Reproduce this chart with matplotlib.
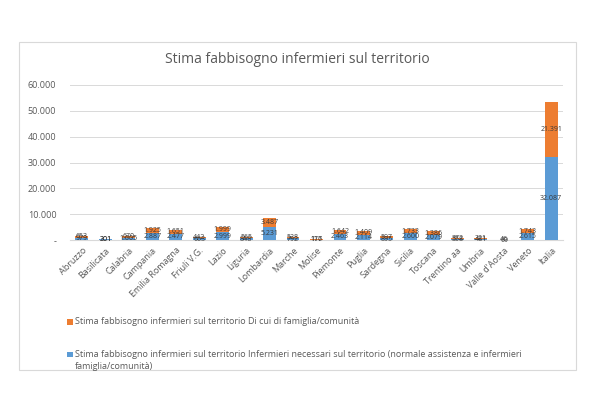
from matplotlib import pyplot as plt
from matplotlib.patches import Rectangle
import numpy as np

# Data
regioni = ["Abruzzo", "Basilicata", "Calabria", "Campania", "Emilia Romagna",
           "Friuli V.G.", "Lazio", "Liguria", "Lombardia", "Marche", "Molise",
           "Piemonte", "Puglia", "Sardegna", "Sicilia", "Toscana", "Trentino aa",
           "Umbria", "Valle d'Aosta", "Veneto", "Italia"]
necessari = [979, 301, 1005, 2887, 2477, 663, 2999, 848, 5231, 792, 176,
             2463, 2114, 895, 2600, 2079, 558, 481, 69, 2615, 32087]
famiglia = [653, 201, 670, 1925, 1651, 442, 1999, 565, 3487, 528, 117,
            1642, 1409, 597, 1733, 1386, 372, 321, 46, 1743, 21391]
yticks = [0, 10000, 20000, 30000, 40000, 50000, 60000]

BLUE = "#5B9BD5"
ORANGE = "#ED7D31"
TXT = "#595959"

plt.rcParams['font.family'] = ['Open Sans', 'DejaVu Sans']


def fmt(v):
    return f"{v:,}".replace(",", ".")


fig = plt.figure(figsize=(6, 3.97), dpi=100)
fig.patch.set_facecolor("white")

# chart frame (behind the axes)
fig.patches.append(Rectangle((0.032, 0.068), 0.928, 0.826, transform=fig.transFigure,
                             facecolor="none", edgecolor="#D9D9D9", linewidth=0.8,
                             zorder=-1))

ax = fig.add_axes([0.117, 0.395, 0.821, 0.391])
ax.set_facecolor("none")
x = np.arange(len(regioni))
ax.bar(x, necessari, width=0.55, color=BLUE, zorder=3)
ax.bar(x, famiglia, width=0.55, bottom=necessari, color=ORANGE, zorder=3)

# data labels centered in each segment
for i in range(len(regioni)):
    ax.text(x[i], necessari[i] / 2, fmt(necessari[i]), ha="center", va="center",
            fontsize=5, color="#3a3a3a", zorder=4)
    ax.text(x[i], necessari[i] + famiglia[i] / 2, fmt(famiglia[i]), ha="center",
            va="center", fontsize=5, color="#3a3a3a", zorder=4)

ax.set_xlim(-0.5, len(regioni) - 0.5)
ax.set_ylim(0, 60000)
ax.set_yticks(yticks)
ax.set_yticklabels(["-" if v == 0 else fmt(v) for v in yticks], fontsize=6.5, color=TXT)
ax.set_xticks(x)
ax.set_xticklabels(regioni, rotation=45, ha="right", rotation_mode="anchor",
                   fontsize=6.5, color=TXT)
ax.tick_params(length=0)
ax.tick_params(axis="y", pad=10)
ax.tick_params(axis="x", pad=4)
ax.grid(axis="y", color="#D9D9D9", linewidth=0.7, zorder=0)
for s in ax.spines.values():
    s.set_visible(False)
ax.spines["bottom"].set_visible(True)
ax.spines["bottom"].set_color("#D9D9D9")

fig.text(0.495, 0.849, "Stima fabbisogno infermieri sul territorio", ha="center",
         va="center", fontsize=10, color=TXT)

# legend
fig.patches.append(Rectangle((0.112, 0.182), 0.009, 0.014, transform=fig.transFigure,
                             facecolor=ORANGE, edgecolor="none"))
fig.text(0.125, 0.189, "Stima fabbisogno infermieri sul territorio Di cui di famiglia/comunità",
         ha="left", va="center", fontsize=6.5, color=TXT)
fig.patches.append(Rectangle((0.112, 0.100), 0.009, 0.014, transform=fig.transFigure,
                             facecolor=BLUE, edgecolor="none"))
fig.text(0.125, 0.107, "Stima fabbisogno infermieri sul territorio Infermieri necessari sul "
         "territorio (normale assistenza e infermieri",
         ha="left", va="center", fontsize=6.5, color=TXT)
fig.text(0.125, 0.077, "famiglia/comunità)", ha="left", va="center", fontsize=6.5, color=TXT)

plt.savefig("out.png", dpi=100)
